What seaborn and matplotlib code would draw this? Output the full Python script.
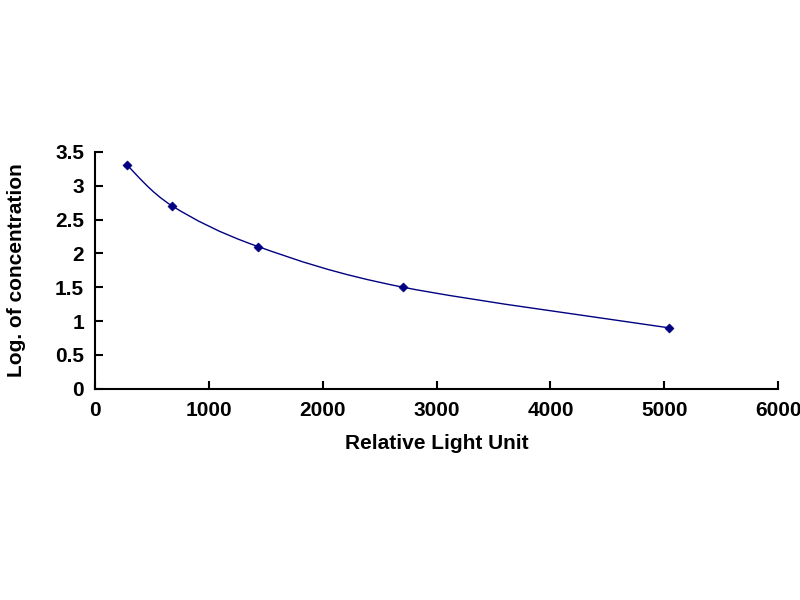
import numpy as np
import pandas as pd
import matplotlib
matplotlib.use("Agg")
import matplotlib.pyplot as plt
import seaborn as sns
from matplotlib.path import Path
from matplotlib.patches import PathPatch

# standard curve points
rlu = [281, 677, 1432, 2706, 5044]
log_conc = [3.3, 2.7, 2.1, 1.5, 0.9]

x_ticks = [0, 1000, 2000, 3000, 4000, 5000, 6000]
y_ticks = [0, 0.5, 1, 1.5, 2, 2.5, 3, 3.5]
y_tick_labels = ["0", "0.5", "1", "1.5", "2", "2.5", "3", "3.5"]

navy = "#000080"

sns.set_style("white")
plt.rcParams['font.family'] = ['Liberation Sans', 'DejaVu Sans']
plt.rcParams['text.color'] = 'black'
plt.rcParams['xtick.color'] = 'black'
plt.rcParams['ytick.color'] = 'black'
plt.rcParams['axes.labelcolor'] = 'black'

df = pd.DataFrame({"rlu": rlu, "log_conc": log_conc})

fig = plt.figure(figsize=(8, 6), dpi=100)
ax = fig.add_axes([0.119, 0.352, 0.8535, 0.395])


def smooth_path(xs, ys):
    # spreadsheet-style smoothed line: cubic bezier through every point
    pts = np.column_stack([xs, ys]).astype(float)
    n = len(pts)
    verts = [pts[0]]
    codes = [Path.MOVETO]
    for i in range(n - 1):
        p0 = pts[i - 1] if i > 0 else pts[i]
        p1 = pts[i]
        p2 = pts[i + 1]
        p3 = pts[i + 2] if i + 2 < n else pts[i + 1]
        c1 = p1 + (p2 - p0) / 6
        c2 = p2 - (p3 - p1) / 6
        verts += [c1, c2, p2]
        codes += [Path.CURVE4] * 3
    return Path(verts, codes)


ax.add_patch(PathPatch(smooth_path(df["rlu"], df["log_conc"]),
                       facecolor="none", edgecolor=navy, lw=1.0))
sns.scatterplot(data=df, x="rlu", y="log_conc", ax=ax, marker="D",
                s=22, color=navy, edgecolor=navy, zorder=3)

ax.set_xlim(0, 6000)
ax.set_ylim(0, 3.5)
ax.set_xticks(x_ticks)
ax.set_yticks(y_ticks)
ax.set_yticklabels(y_tick_labels)
ax.tick_params(direction="in", length=6, width=1.5, labelsize=15,
               left=True, bottom=True)
ax.tick_params(axis="x", pad=9)
ax.tick_params(axis="y", pad=8)
for lab in ax.get_xticklabels() + ax.get_yticklabels():
    lab.set_fontweight("bold")

sns.despine(ax=ax)
for sp in ["left", "bottom"]:
    ax.spines[sp].set_linewidth(1.5)
    ax.spines[sp].set_color("black")

ax.set_xlabel("Relative Light Unit", fontsize=15, fontweight="bold", labelpad=10)
ax.set_ylabel("Log. of concentration", fontsize=15, fontweight="bold", labelpad=21)

fig.savefig("out.png", dpi=100)
